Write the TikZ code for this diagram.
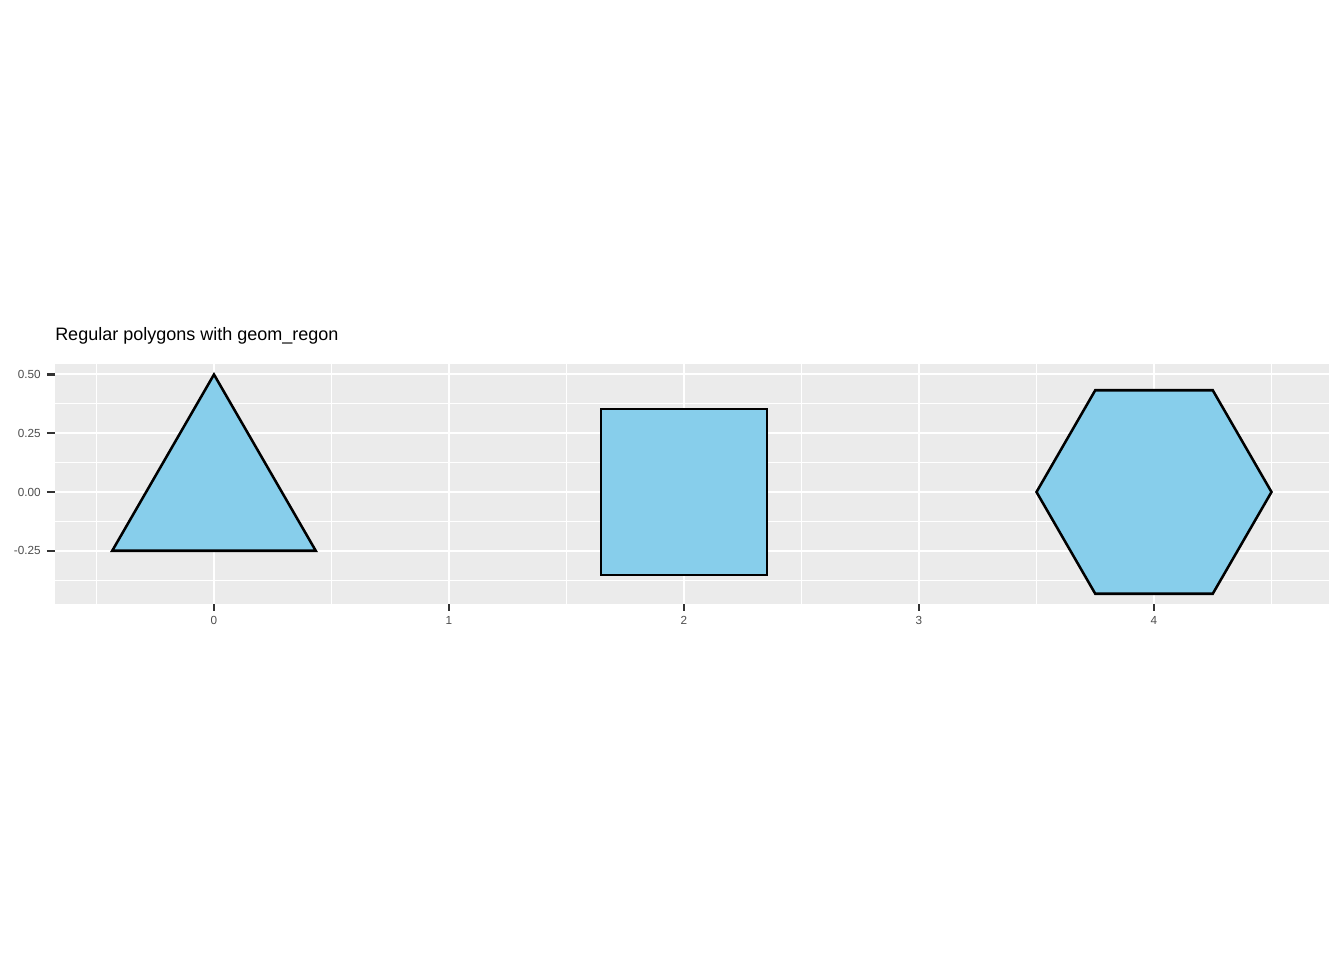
\documentclass[tikz,border=0pt]{standalone}
\usepackage{fontspec}
\setmainfont{Liberation Sans}
\definecolor{panelgrey}{HTML}{EBEBEB}
\definecolor{ticklabel}{HTML}{4D4D4D}
\definecolor{tickmark}{HTML}{333333}
\definecolor{shapefill}{HTML}{87CEEB}
\tikzset{
  polyshape/.style={draw=black, fill=shapefill, line width=1.9pt, line join=miter},
  majorgrid/.style={white, line width=1.5pt},
  minorgrid/.style={white, line width=0.75pt},
  tickline/.style={tickmark, line width=1.7pt},
  ticktext/.style={text=ticklabel, font=\fontsize{8.8}{10}\selectfont, inner sep=0pt}
}
\begin{document}
\begin{tikzpicture}[x=176.25pt,y=176.25pt]
\useasboundingbox (-0.9106,-1.9915) rectangle (4.8085,2.0936);
% panel
\fill[panelgrey] (-0.6766,-0.4766) rectangle (4.7447,0.5447);
\foreach \gx in {-0.5,0.5,1.5,2.5,3.5,4.5}
  \draw[minorgrid] (\gx,-0.4766) -- (\gx,0.5447);
\foreach \gy in {-0.375,-0.125,0.125,0.375}
  \draw[minorgrid] (-0.6766,\gy) -- (4.7447,\gy);
\foreach \gx in {0,1,2,3,4}
  \draw[majorgrid] (\gx,-0.4766) -- (\gx,0.5447);
\foreach \gy in {-0.25,0,0.25,0.5}
  \draw[majorgrid] (-0.6766,\gy) -- (4.7447,\gy);
% polygons
\draw[polyshape] (0,0.5) -- (-0.4330,-0.25) -- (0.4330,-0.25) -- cycle;
\draw[polyshape] (1.6464,-0.3536) rectangle (2.3536,0.3536);
\draw[polyshape] (3.5,0) -- (3.75,0.4330) -- (4.25,0.4330) -- (4.5,0)
  -- (4.25,-0.4330) -- (3.75,-0.4330) -- cycle;
% axes
\foreach \gx in {0,1,2,3,4} {
  \draw[tickline] (\gx,-0.4766) -- (\gx,-0.5064);
  \node[ticktext, anchor=north] (xl\gx) at (\gx,-0.5298) {\gx};
}
\foreach \gy/\lab in {0.5/0.50,0.25/0.25,0/0.00,-0.25/-0.25} {
  \draw[tickline] (-0.7106,\gy) -- (-0.6766,\gy);
  \node[ticktext, anchor=east] (yl\lab) at (-0.7362,\gy) {\lab};
}
\node[anchor=base west, inner sep=0pt, font=\fontsize{13.5}{16}\selectfont] (title) at (-0.6766,0.6426) {Regular polygons with geom\_regon};
\end{tikzpicture}
\end{document}
